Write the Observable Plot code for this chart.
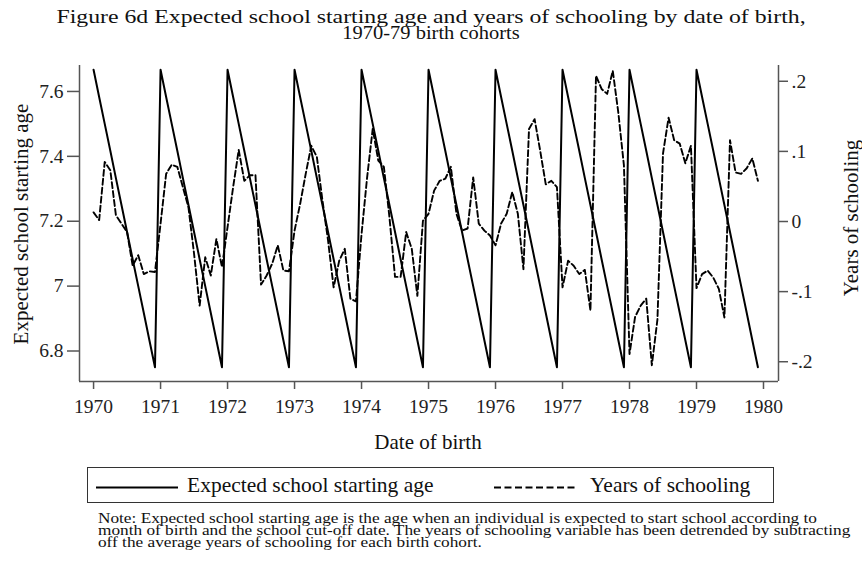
<!DOCTYPE html>
<html>
<head>
<meta charset="utf-8">
<script src="https://cdn.jsdelivr.net/npm/d3@7"></script>
<script src="https://cdn.jsdelivr.net/npm/@observablehq/plot@0.6"></script>
<style>
  html, body { margin: 0; padding: 0; background: #fff; }
  #wrap { position: relative; width: 862px; height: 570px; overflow: hidden; font-family: "Liberation Serif", serif; color: #111; }
  #chart { position: absolute; left: 0; top: 0; }
  .abs { position: absolute; white-space: nowrap; }
  .tline { font-size: 19.5px; line-height: 16px; height: 16px; transform: translate(-50%, 0) scaleX(1.22); transform-origin: 50% 0; }
  .tline2 { font-size: 19.5px; line-height: 16px; height: 16px; transform: translate(-50%, 0) scaleX(1.05); transform-origin: 50% 0; }
  .ytitle { font-size: 21px; transform: translate(-50%, -50%) rotate(-90deg); }
  #xtitle { font-size: 21px; transform: translate(-50%, -50%); }
  #legend { left: 87px; top: 467px; width: 687px; height: 36px; border: 1.3px solid #333; box-sizing: border-box; }
  #note { left: 98px; top: 513px; font-size: 14px; line-height: 12px; transform: scaleX(1.232); transform-origin: 0 0; }
</style>
</head>
<body>
<div id="wrap">
  <div id="chart"></div>
  <div class="abs tline" style="left:431px; top:9px;">Figure 6d Expected school starting age and years of schooling by date of birth,</div>
  <div class="abs tline2" style="left:431px; top:25px;">1970-79 birth cohorts</div>
  <div class="abs ytitle" style="left:21px; top:224px;">Expected school starting age</div>
  <div class="abs ytitle" style="left:851px; top:218px;">Years of schooling</div>
  <div id="xtitle" class="abs" style="left:428px; top:442px;">Date of birth</div>
  <div id="legend" class="abs">
    <svg width="687" height="36" style="position:absolute;left:0;top:0;">
      <line x1="8" x2="90" y1="19.5" y2="19.5" stroke="#000" stroke-width="2"></line>
      <line x1="406" x2="489" y1="19.5" y2="19.5" stroke="#000" stroke-width="2" stroke-dasharray="7,3.5"></line>
    </svg>
    <span class="abs" style="left:99px; top:5px; font-size:21.5px;">Expected school starting age</span>
    <span class="abs" style="left:502px; top:5px; font-size:21.5px;">Years of schooling</span>
  </div>
  <div id="note" class="abs">Note: Expected school starting age is the age when an individual is expected to start school according to<br>month of birth and the school cut-off date. The years of schooling variable has been detrended by subtracting<br>off the average years of schooling for each birth cohort.</div>
</div>
<script>
// ---- data ----
const birthYears = [1970, 1971, 1972, 1973, 1974, 1975, 1976, 1977, 1978, 1979];
const monthIndex = [0, 1, 2, 3, 4, 5, 6, 7, 8, 9, 10, 11];

// Expected school starting age, by month of birth (Jan..Dec), each cohort
const startAge = [
  [7.667, 7.583, 7.5, 7.417, 7.333, 7.25, 7.167, 7.083, 7.0, 6.917, 6.833, 6.75],
  [7.667, 7.583, 7.5, 7.417, 7.333, 7.25, 7.167, 7.083, 7.0, 6.917, 6.833, 6.75],
  [7.667, 7.583, 7.5, 7.417, 7.333, 7.25, 7.167, 7.083, 7.0, 6.917, 6.833, 6.75],
  [7.667, 7.583, 7.5, 7.417, 7.333, 7.25, 7.167, 7.083, 7.0, 6.917, 6.833, 6.75],
  [7.667, 7.583, 7.5, 7.417, 7.333, 7.25, 7.167, 7.083, 7.0, 6.917, 6.833, 6.75],
  [7.667, 7.583, 7.5, 7.417, 7.333, 7.25, 7.167, 7.083, 7.0, 6.917, 6.833, 6.75],
  [7.667, 7.583, 7.5, 7.417, 7.333, 7.25, 7.167, 7.083, 7.0, 6.917, 6.833, 6.75],
  [7.667, 7.583, 7.5, 7.417, 7.333, 7.25, 7.167, 7.083, 7.0, 6.917, 6.833, 6.75],
  [7.667, 7.583, 7.5, 7.417, 7.333, 7.25, 7.167, 7.083, 7.0, 6.917, 6.833, 6.75],
  [7.667, 7.583, 7.5, 7.417, 7.333, 7.25, 7.167, 7.083, 7.0, 6.917, 6.833, 6.75]
];

// Detrended years of schooling, by month of birth, each cohort
const schooling = [
  [0.013, 0.002, 0.085, 0.073, 0.009, -0.003, -0.015, -0.063, -0.048, -0.075, -0.071, -0.072],
  [-0.003, 0.068, 0.081, 0.078, 0.049, 0.020, -0.046, -0.120, -0.051, -0.077, -0.025, -0.065],
  [-0.008, 0.049, 0.102, 0.058, 0.066, 0.066, -0.090, -0.077, -0.060, -0.034, -0.070, -0.071],
  [-0.013, 0.025, 0.068, 0.108, 0.092, 0.030, -0.027, -0.094, -0.056, -0.039, -0.110, -0.114],
  [-0.018, 0.063, 0.132, 0.087, 0.078, 0.006, -0.079, -0.079, -0.015, -0.039, -0.106, 0.001],
  [0.011, 0.044, 0.058, 0.061, 0.078, 0.011, -0.013, -0.010, 0.063, -0.003, -0.013, -0.020],
  [-0.034, -0.003, 0.011, 0.042, 0.011, -0.068, 0.132, 0.146, 0.101, 0.053, 0.058, 0.049],
  [-0.094, -0.056, -0.063, -0.075, -0.069, -0.127, 0.208, 0.189, 0.182, 0.215, 0.155, 0.080],
  [-0.189, -0.136, -0.120, -0.110, -0.205, -0.140, 0.097, 0.148, 0.116, 0.111, 0.083, 0.108],
  [-0.095, -0.075, -0.070, -0.080, -0.096, -0.137, 0.116, 0.070, 0.068, 0.076, 0.090, 0.058]
];

const xTicks = [1970, 1971, 1972, 1973, 1974, 1975, 1976, 1977, 1978, 1979, 1980];
const leftTicks = [6.8, 7, 7.2, 7.4, 7.6];
const rightTicks = [-0.2, -0.1, 0, 0.1, 0.2];
const xDomain = [1969.79, 1980.224];
const leftDomain = [6.706, 7.680];
const rightDomain = [-0.2282, 0.2225];

// ---- build tables ----
const ageRows = [];
const schoolRows = [];
birthYears.forEach((yr, i) => {
  monthIndex.forEach((m, j) => {
    const date = yr + m / 12;
    ageRows.push({date, value: startAge[i][j]});
    schoolRows.push({date, value: schooling[i][j]});
  });
});

// map right-axis units onto the left (primary) y scale
const toLeft = d3.scaleLinear().domain(rightDomain).range(leftDomain);
const fmtRight = v => {
  const r = Math.round(v * 10) / 10;
  if (Math.abs(r) < 1e-9) return "0";
  return String(r).replace("0.", ".");
};

const font = "Liberation Serif";
const chart = Plot.plot({
  width: 862,
  height: 460,
  marginTop: 65,
  marginBottom: 79,
  marginLeft: 79,
  marginRight: 84,
  style: {fontFamily: font, background: "transparent", color: "#222", overflow: "visible"},
  x: {domain: xDomain},
  y: {domain: leftDomain},
  marks: [
    Plot.ruleX([xDomain[0]], {stroke: "#555", strokeWidth: 1.5}),
    Plot.ruleX([xDomain[1]], {stroke: "#555", strokeWidth: 1.5, y1: leftDomain[0], y2: leftDomain[1]}),
    Plot.ruleY([leftDomain[0]], {stroke: "#555", strokeWidth: 1.5}),
    Plot.axisX({ticks: xTicks, tickFormat: d => String(d), tickSize: 8, tickPadding: 10, fontSize: 19.5, label: null, stroke: "#555", strokeWidth: 1.5}),
    Plot.axisY({ticks: leftTicks, tickFormat: d => String(d), tickSize: 12, tickPadding: 4, fontSize: 19.5, label: null, stroke: "#555", strokeWidth: 1.5}),
    Plot.axisY({anchor: "right", ticks: rightTicks.map(v => toLeft(v)), tickFormat: d => fmtRight(toLeft.invert(d)), tickSize: 9, tickPadding: 4, fontSize: 19.5, label: null, stroke: "#555", strokeWidth: 1.5}),
    Plot.line(ageRows, {x: "date", y: "value", stroke: "#000", strokeWidth: 2}),
    Plot.line(schoolRows, {x: "date", y: d => toLeft(d.value), stroke: "#000", strokeWidth: 1.9, strokeDasharray: "6,3"})
  ]
});
document.getElementById("chart").appendChild(chart);
</script>
</body>
</html>
